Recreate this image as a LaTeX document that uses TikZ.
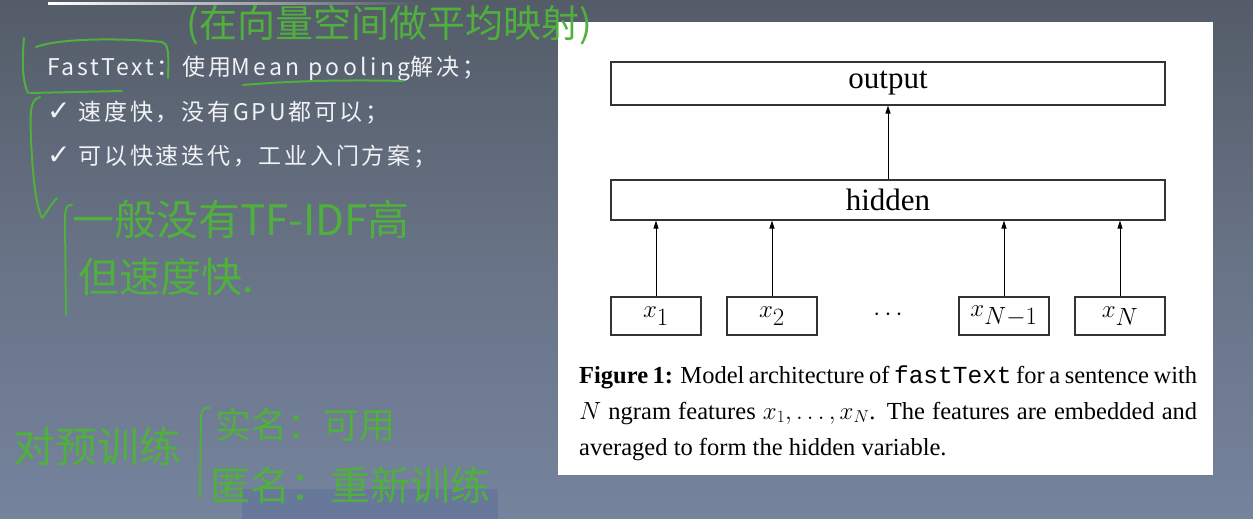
\documentclass[tikz,border=0pt]{standalone}
\usepackage[no-math]{fontspec}
\setmainfont{Liberation Serif}
\setmonofont{Liberation Mono}
\newfontfamily\cjk{Noto Sans CJK SC}
\newfontfamily\cjkls{Noto Sans CJK SC}[LetterSpace=12]
\newfontfamily\cjklat{Noto Sans CJK SC}[LetterSpace=15]
\newfontfamily\symf{DejaVu Sans}
\usetikzlibrary{arrows.meta}
\definecolor{bgtop}{RGB}{84,92,104}
\definecolor{bgmid}{RGB}{104,115,134}
\definecolor{bgbot}{RGB}{117,131,157}
\definecolor{bgbox}{RGB}{104,120,154}
\definecolor{hand}{RGB}{80,176,62}
\definecolor{slide}{RGB}{240,242,245}
\tikzset{
  figbox/.style={draw=black!80, line width=1.1pt, fill=white, inner sep=0pt, font=\fontsize{31}{33}\selectfont},
  mathbox/.style={figbox, minimum width=90pt, minimum height=38pt, font=\fontsize{34}{36}\selectfont},
  arr/.style={line width=0.9pt, -{Triangle[length=8pt,width=5pt]}},
  slidetxt/.style={anchor=base west, inner sep=0pt, text=slide, font=\cjkls\fontsize{23}{26}\selectfont},
  captxt/.style={anchor=base west, inner sep=0pt, font=\fontsize{24.5}{26}\selectfont},
  hw/.style={anchor=base west, inner sep=0pt, text=hand},
  pen/.style={draw=hand, line width=2pt, line cap=round, line join=round}
}
\newcommand{\chk}{{\symf\bfseries\fontsize{28}{28}\selectfont ✓}}
\begin{document}
\begin{tikzpicture}[x=1pt,y=-1pt]
\useasboundingbox (0,0) rectangle (1253,519);
% background
\shade[top color=bgtop, bottom color=bgbot, middle color=bgmid] (0,0) rectangle (1253,519);
\shade[left color=white, right color=bgtop] (48,3) rectangle (420,5);
\fill[bgbox] (242,489) rectangle (498,519);
% white panel
\fill[white] (558,22) rectangle (1213,475);
% figure
\node[figbox, minimum width=554pt, minimum height=43pt] (out) at (888,83.5) {output};
\node[figbox, minimum width=554pt, minimum height=40pt] (hid) at (888,200) {hidden};
\node[mathbox] (x1) at (656,316) {$x_1$};
\node[mathbox] (x2) at (772,316) {$x_2$};
\node[inner sep=0pt, anchor=base, font=\fontsize{31}{33}\selectfont] (dots) at (888,320) {$\cdots$};
\node[mathbox] (xn1) at (1004,316) {$x_{N-1}$};
\node[mathbox] (xn) at (1120,316) {$x_N$};
\draw[arr] (hid.north) -- (out.south);
\foreach \n in {x1,x2,xn1,xn} \draw[arr] (\n.north) -- (\n |- hid.south);
% caption
\node[captxt] (c1) at (579,383) {\makebox[618pt][s]{\textbf{Figure 1:} Model architecture of \texttt{fastText} for a sentence with}};
\node[captxt] (c2) at (579,419) {\makebox[618pt][s]{$N$ ngram features $x_1,\ldots,x_N$. The features are embedded and}};
\node[captxt] (c3) at (579,455) {averaged to form the hidden variable.};
% slide text
\node[slidetxt] (t1) at (47,75) {FastText：使用{\cjklat Mean pooling}解决；};
\node[slidetxt] (t2) at (47,120) {\chk\ 速度快，没有GPU都可以；};
\node[slidetxt] (t3) at (47,164) {\chk\ 可以快速迭代，工业入门方案；};
% handwriting
\node[hw, font=\cjk\fontsize{38}{40}\selectfont] (h1) at (186,38) {(在向量空间做平均映射)};
\node[hw, font=\cjk\fontsize{42}{44}\selectfont] (h2) at (72,235) {一般没有TF-IDF高};
\node[hw, font=\cjk\fontsize{41}{44}\selectfont] (h3) at (78,292) {但速度快.};
\node[hw, font=\cjk\fontsize{42}{44}\selectfont] (h4) at (13,462) {对预训练};
\node[hw, font=\cjk\fontsize{36}{38}\selectfont] (h5) at (215,438) {实名：可用};
\node[hw, font=\cjk\fontsize{40}{42}\selectfont] (h6) at (210,500) {匿名：重新训练};
% pen strokes
\draw[pen] (24,38) .. controls (22,60) and (22,80) .. (28,93);
\draw[pen] (36,47) .. controls (60,38) and (120,38) .. (162,42) .. controls (168,44) and (169,50) .. (168,78);
\draw[pen] (30,93) -- (122,91);
\draw[pen] (243,85) .. controls (300,80) and (360,80) .. (403,81);
\draw[pen] (40,97) .. controls (30,100) and (30,110) .. (31,140) .. controls (33,180) and (36,205) .. (42,218) .. controls (46,214) and (50,205) .. (57,198);
\draw[pen] (72,205) .. controls (66,204) and (65,210) .. (65,220) -- (66,315);
\draw[pen] (210,408) .. controls (203,407) and (201,410) .. (201,420) -- (200,497);
\end{tikzpicture}
\end{document}
